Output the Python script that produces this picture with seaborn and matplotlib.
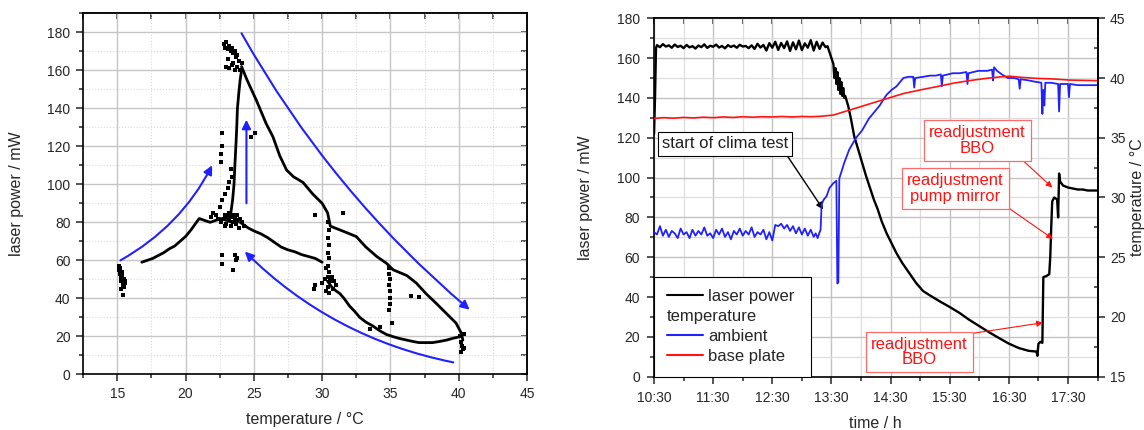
import matplotlib
matplotlib.use("Agg")
import matplotlib.pyplot as plt
from matplotlib.lines import Line2D
from matplotlib.ticker import MultipleLocator, FuncFormatter, NullFormatter
import seaborn as sns

# ---------------- left panel: laser power vs. temperature ----------------
# main traces (temperature in degC, power in mW)
heating_branch = [(16.8, 59), (17.2, 60), (17.6, 61), (18.0, 62.5), (18.4, 64), (18.8, 66),
                  (19.2, 67.5), (19.6, 70), (20.0, 72.5), (20.4, 76), (20.8, 80), (21.0, 82),
                  (21.4, 81), (21.8, 80), (22.2, 81), (22.6, 82), (23.0, 81), (23.4, 80), (23.8, 80)]
rise_branch = [(23.3, 84), (23.45, 92), (23.55, 100), (23.6, 108), (23.65, 115), (23.7, 122),
               (23.75, 130), (23.8, 140), (23.9, 148), (24.0, 155), (24.1, 160)]
upper_cooling = [(24.1, 162), (24.5, 155), (25.2, 144), (25.9, 132), (26.4, 125), (26.9, 115),
                 (27.4, 107.5), (27.9, 104), (28.6, 101), (29.3, 95), (30.0, 90), (30.4, 85),
                 (30.6, 78), (31.3, 76), (32.0, 74), (32.5, 72.5), (33.2, 67), (34.0, 62),
                 (34.7, 58.5), (35.2, 55), (36.2, 52), (36.9, 48), (37.6, 42.5), (38.4, 37),
                 (39.1, 32), (39.8, 27), (40.2, 21.5), (40.3, 18)]
lower_cooling = [(24.0, 80), (24.6, 77), (25.0, 75.5), (25.5, 74), (26.0, 72), (26.5, 69.5),
                 (27.0, 67), (27.5, 65.5), (28.0, 64.5), (28.5, 63), (29.0, 62), (29.5, 61), (30.0, 59)]
lower_cooling2 = [(30.4, 49), (30.7, 46), (31.0, 44), (31.3, 42.5), (31.6, 40), (32.0, 36),
                  (32.4, 33), (32.75, 30), (33.2, 27.5), (33.7, 25.5), (34.2, 23), (34.7, 21),
                  (35.2, 19.8), (35.7, 18.8), (36.2, 18), (36.7, 17.2), (37.1, 16.7), (37.6, 16.7),
                  (38.1, 16.7), (38.6, 17.3), (39.1, 18), (39.6, 19), (40.1, 19.8)]
# loose points and clusters
loose_points = [
    (15.1, 57), (15.15, 55), (15.2, 53), (15.25, 51), (15.3, 49), (15.35, 52), (15.4, 48),
    (15.45, 47), (15.5, 50), (15.55, 48), (15.3, 45), (15.4, 42), (15.6, 49), (15.35, 54),
    (15.5, 46), (15.2, 56),
    (22.6, 80), (22.8, 82), (22.9, 84), (23.0, 79), (23.1, 83), (23.2, 81), (23.3, 78),
    (23.4, 83), (23.5, 80), (23.6, 82), (23.7, 79), (23.8, 81), (23.9, 77), (24.0, 82),
    (24.1, 80), (24.3, 78), (23.2, 85), (23.5, 84), (23.8, 84), (22.9, 78), (22.4, 82),
    (22.2, 84), (22.0, 85), (21.9, 83),
    (22.8, 174), (22.9, 172), (23.0, 175), (23.1, 171), (23.2, 173), (23.3, 170), (23.4, 172),
    (23.5, 169), (23.6, 170), (23.7, 167), (23.8, 168), (23.9, 165), (23.0, 162), (23.2, 161),
    (23.4, 163), (23.6, 160), (23.8, 162), (24.0, 160), (24.1, 164), (23.1, 166), (23.5, 164),
    (22.5, 88), (22.7, 92), (22.9, 95), (23.1, 98), (23.2, 101), (23.4, 104), (22.6, 112),
    (22.6, 116), (22.7, 120), (22.7, 127), (23.3, 108),
    (22.7, 58), (22.7, 63), (23.5, 55), (23.8, 61), (23.6, 63), (23.7, 60), (24.8, 125),
    (25.1, 127), (29.5, 84), (31.5, 85), (36.5, 41), (37.1, 40.5), (33.5, 24), (34.2, 25),
    (29.5, 47), (29.4, 45), (30.3, 56),
    (30.45, 80), (30.5, 76), (30.45, 72), (30.5, 68), (30.4, 64), (30.5, 61), (30.45, 57),
    (30.5, 54), (30.4, 51),
    (30.0, 48), (30.2, 50), (30.4, 46), (30.6, 49), (30.8, 45), (30.3, 44), (30.7, 51),
    (31.0, 47), (30.5, 43), (30.9, 49),
    (34.9, 56), (34.9, 53), (35.0, 50), (34.9, 47), (35.0, 44), (34.95, 40), (35.0, 37),
    (34.9, 34), (35.1, 27),
    (40.2, 17), (40.25, 15), (40.3, 13.5), (40.2, 12), (40.35, 14), (40.1, 20), (40.4, 21),
]

# ---------------- right panel: time series ----------------
laser_time = [
    "10:30", "10:31", "10:32", "10:33", "10:36", "10:39", "10:42", "10:45", "10:48", "10:51",
    "10:54", "10:57", "11:00", "11:03", "11:06", "11:09", "11:12", "11:15", "11:18", "11:21",
    "11:24", "11:27", "11:30", "11:33", "11:36", "11:39", "11:42", "11:45", "11:48", "11:51",
    "11:54", "11:57", "12:00", "12:03", "12:06", "12:09", "12:12", "12:15", "12:18", "12:21",
    "12:24", "12:27", "12:30", "12:33", "12:36", "12:39", "12:42", "12:45", "12:48", "12:51",
    "12:54", "12:57", "13:00", "13:03", "13:06", "13:09", "13:12", "13:15", "13:18", "13:21",
    "13:24", "13:26", "13:28", "13:30", "13:32", "13:33", "13:34", "13:35", "13:36", "13:37",
    "13:38", "13:39", "13:40", "13:41", "13:42", "13:43", "13:44", "13:47", "13:50", "13:53",
    "13:56", "13:59", "14:02", "14:05", "14:09", "14:13", "14:17", "14:21", "14:26", "14:31",
    "14:36", "14:42", "14:49", "14:56", "15:03", "15:10", "15:20", "15:30", "15:40", "15:50",
    "16:00", "16:10", "16:20", "16:30", "16:40", "16:50", "16:58", "16:59", "17:00", "17:02",
    "17:04", "17:05", "17:08", "17:11", "17:12", "17:13", "17:14", "17:16", "17:19", "17:20",
    "17:21", "17:22", "17:25", "17:30", "17:35", "17:40", "17:45", "17:50", "17:55", "18:00",
]
laser_mw = [
    122, 140, 165, 166.5, 165.5, 167, 165.8, 166.4, 165.2, 166.8,
    165.6, 166.2, 165.0, 166.6, 165.4, 166.0, 164.8, 166.3, 165.5, 166.9,
    165.1, 166.2, 165.7, 166.8, 165.3, 166.1, 164.9, 166.5, 165.6, 166.3,
    165.2, 166.7, 165.8, 166.1, 165.0, 166.4, 164.6, 167.2, 165.3, 166.6,
    163.8, 167.5, 165.2, 168.2, 164.1, 167.6, 165.0, 168.4, 163.6, 167.9,
    164.4, 168.8, 164.0, 167.4, 165.2, 169.0, 163.8, 168.2, 164.6, 167.8,
    165.5, 166, 163, 160, 157, 150, 155, 147, 153, 144,
    150, 142, 148, 141, 145, 140, 141, 136, 129, 121,
    116, 111, 106, 101, 95, 89, 84, 78, 72, 67,
    62, 57, 52, 47, 43, 40.8, 37.8, 35, 32, 28.5,
    25.4, 22.3, 19.4, 16.6, 14.4, 13.0, 12.6, 10.5, 16.5, 17.5,
    17, 50, 50.5, 51.5, 60, 75, 88, 90, 89, 80,
    102, 98, 96, 95, 94.5, 94, 94, 93.5, 93.5, 93.5,
]

ambient_time = [
    "10:30", "10:33", "10:36", "10:39", "10:42", "10:45", "10:48", "10:51", "10:54", "10:57",
    "11:00", "11:03", "11:06", "11:09", "11:12", "11:15", "11:18", "11:21", "11:24", "11:27",
    "11:30", "11:33", "11:36", "11:39", "11:42", "11:45", "11:48", "11:51", "11:54", "11:57",
    "12:00", "12:03", "12:06", "12:09", "12:12", "12:15", "12:18", "12:21", "12:24", "12:27",
    "12:30", "12:33", "12:36", "12:39", "12:42", "12:45", "12:48", "12:51", "12:54", "12:57",
    "13:00", "13:03", "13:06", "13:09", "13:12", "13:14", "13:16", "13:18", "13:19", "13:20",
    "13:22", "13:25", "13:28", "13:32", "13:35", "13:36", "13:37", "13:38", "13:43", "13:48",
    "13:55", "14:01", "14:08", "14:14", "14:19", "14:22", "14:26", "14:31", "14:36", "14:43",
    "14:48", "14:53", "14:54", "14:55", "15:03", "15:10", "15:16", "15:21", "15:22", "15:23",
    "15:33", "15:40", "15:47", "15:48", "15:49", "15:59", "16:08", "16:13", "16:14", "16:15",
    "16:18", "16:23", "16:29", "16:35", "16:40", "16:41", "16:42", "16:50", "16:56", "17:03",
    "17:04", "17:05", "17:06", "17:07", "17:13", "17:20", "17:21", "17:22", "17:30", "17:31",
    "17:32", "17:40", "17:50", "18:00",
]
ambient_c = [
    27.1, 26.9, 27.6, 26.8, 27.3, 26.7, 27.2, 27.0, 26.6, 27.4,
    26.9, 27.1, 26.6, 27.3, 26.8, 27.2, 26.9, 27.5, 26.8, 27.0,
    26.6, 27.3, 26.9, 27.4, 26.7, 27.1, 26.5, 27.2, 26.9, 27.4,
    26.8, 27.2, 26.9, 27.5, 26.7, 27.1, 26.9, 27.3, 26.5, 27.1,
    26.4, 27.7, 27.6, 27.8, 27.4, 27.7, 27.2, 27.6, 27.0, 27.5,
    26.9, 27.4, 26.8, 27.3, 26.7, 27.0, 26.6, 27.1, 27.3, 29.4,
    29.8, 30.1, 30.8, 31.2, 31.4, 22.8, 22.9, 31.6, 32.9, 34.0,
    35.0, 35.6, 36.6, 37.2, 37.7, 38.1, 38.6, 39.0, 39.3, 40.0,
    40.1, 40.1, 39.2, 40.0, 40.1, 40.2, 40.2, 40.3, 39.3, 40.2,
    40.4, 40.4, 40.5, 39.5, 40.4, 40.6, 40.6, 40.7, 39.8, 40.9,
    40.6, 40.3, 40.0, 40.0, 39.9, 39.1, 39.9, 39.8, 39.7, 39.6,
    37.0, 39.0, 37.7, 39.6, 39.6, 39.5, 37.2, 39.5, 39.5, 38.4,
    39.5, 39.4, 39.4, 39.4,
]

base_time = ["10:30", "10:40", "10:50", "11:00", "11:10", "11:20", "11:30", "11:40", "11:50",
             "12:00", "12:10", "12:20", "12:30", "12:40", "12:50", "13:00", "13:10", "13:20",
             "13:32", "13:51", "14:09", "14:26", "14:43", "15:00", "15:17", "15:34", "15:50",
             "16:07", "16:24", "16:31", "16:41", "16:58", "17:15", "17:31", "18:00"]
base_c = [36.62, 36.68, 36.64, 36.70, 36.66, 36.72, 36.68, 36.74, 36.70,
          36.76, 36.72, 36.76, 36.74, 36.78, 36.74, 36.78, 36.76, 36.80,
          36.90, 37.38, 37.84, 38.27, 38.70, 39.00, 39.28, 39.57, 39.78,
          39.97, 40.12, 40.15, 40.07, 39.97, 39.92, 39.83, 39.78]

BLUE = "#2121ff"
RED = "#ff1414"


def to_hours(stamps):
    return [int(s[:2]) + int(s[3:]) / 60 for s in stamps]


def hhmm(v, pos=None):
    h = int(v)
    m = int(round((v - h) * 60))
    return f"{h}:{m:02d}"


sns.set_style("ticks")
plt.rcParams["font.family"] = ["Liberation Sans", "DejaVu Sans"]
plt.rcParams["axes.linewidth"] = 1.2

fig = plt.figure(figsize=(11.44, 4.30), dpi=100)
ax1 = fig.add_axes([0.0726, 0.1295, 0.3881, 0.8395])
ax2 = fig.add_axes([0.5717, 0.124, 0.3877, 0.8335])
ax3 = ax2.twinx()

# ---------- left ----------
for branch in [heating_branch, rise_branch, upper_cooling, lower_cooling, lower_cooling2]:
    t, p = zip(*branch)
    sns.lineplot(x=list(t), y=list(p), ax=ax1, color="black", lw=2.0,
                 sort=False, estimator=None)
t, p = zip(*loose_points)
sns.scatterplot(x=list(t), y=list(p), ax=ax1, color="black", marker="s", s=7,
                linewidth=0)

arrow_kw = dict(arrowstyle="-|>", color=BLUE, lw=1.5, mutation_scale=13,
                shrinkA=0, shrinkB=0)
ax1.annotate("", xy=(21.95, 110), xytext=(15.24, 60),
             arrowprops=dict(connectionstyle="arc3,rad=0.15", **arrow_kw))
ax1.annotate("", xy=(24.46, 134), xytext=(24.46, 90), arrowprops=arrow_kw)
ax1.annotate("", xy=(40.8, 34), xytext=(24.1, 179.5),
             arrowprops=dict(connectionstyle="arc3,rad=0.09", **arrow_kw))
ax1.annotate("", xy=(24.34, 64.6), xytext=(39.6, 6.3),
             arrowprops=dict(connectionstyle="arc3,rad=-0.15", **arrow_kw))

ax1.set_xlim(12.5, 45)
ax1.set_ylim(0, 190)
ax1.xaxis.set_major_locator(MultipleLocator(5))
ax1.xaxis.set_minor_locator(MultipleLocator(2.5))
ax1.yaxis.set_major_locator(MultipleLocator(20))
ax1.yaxis.set_minor_locator(MultipleLocator(10))
ax1.grid(which="major", color="#c6c6c6", lw=1.0)
ax1.grid(which="minor", color="#dadada", lw=0.8, ls=":")
ax1.tick_params(which="major", direction="out", length=5, width=1.1, labelsize=10, pad=4)
ax1.tick_params(which="minor", direction="out", length=3, width=1.1)
ax1.set_xlabel("temperature / °C", fontsize=11.5, labelpad=8)
ax1.set_ylabel("laser power / mW", fontsize=11.5, labelpad=17)
for s in ax1.spines.values():
    s.set_color("black")

top1 = ax1.secondary_xaxis("top")
top1.xaxis.set_major_locator(MultipleLocator(2.5))
top1.xaxis.set_major_formatter(NullFormatter())
top1.tick_params(direction="in", length=4, width=1.1)
right1 = ax1.secondary_yaxis("right")
right1.yaxis.set_major_locator(MultipleLocator(10))
right1.yaxis.set_major_formatter(NullFormatter())
right1.tick_params(direction="in", length=4, width=1.1)

# ---------- right ----------
sns.lineplot(x=to_hours(laser_time), y=laser_mw, ax=ax2, color="black", lw=1.7,
             sort=False, estimator=None)
sns.lineplot(x=to_hours(ambient_time), y=ambient_c, ax=ax3, color=BLUE, lw=1.3,
             sort=False, estimator=None)
sns.lineplot(x=to_hours(base_time), y=base_c, ax=ax3, color=RED, lw=1.2,
             sort=False, estimator=None)

ax2.set_xlim(10.5, 18.0)
ax2.set_ylim(0, 180)
ax3.set_ylim(15, 45)
ax2.xaxis.set_major_locator(MultipleLocator(1.0, offset=0.5))
ax2.xaxis.set_minor_locator(MultipleLocator(0.5))
ax2.xaxis.set_major_formatter(FuncFormatter(hhmm))
ax2.yaxis.set_major_locator(MultipleLocator(20))
ax2.yaxis.set_minor_locator(MultipleLocator(10))
ax3.yaxis.set_major_locator(MultipleLocator(5))
ax3.yaxis.set_minor_locator(MultipleLocator(2.5))
ax2.grid(which="major", color="#c2c2c2", lw=1.0)
ax2.grid(which="minor", color="#dedede", lw=0.9)
ax2.tick_params(which="major", direction="out", length=5, width=1.1, labelsize=10, pad=5)
ax2.tick_params(which="minor", direction="out", length=3, width=1.1)
ax3.tick_params(which="major", direction="out", length=5, width=1.1, labelsize=10, pad=4)
ax3.tick_params(which="minor", direction="in", length=3, width=1.1)
ax2.set_xlabel("time / h", fontsize=11.5, labelpad=8)
ax2.set_ylabel("laser power / mW", fontsize=11.5, labelpad=17)
ax3.set_ylabel("temperature / °C", fontsize=11.5, labelpad=3)
for s in ax2.spines.values():
    s.set_color("black")
ax3.spines["right"].set_color("black")
for side in ["left", "top", "bottom"]:
    ax3.spines[side].set_visible(False)

top2 = ax2.secondary_xaxis("top")
top2.xaxis.set_major_locator(MultipleLocator(0.5))
top2.xaxis.set_major_formatter(NullFormatter())
top2.tick_params(direction="in", length=4, width=1.1)

handles = [Line2D([], [], color="black", lw=1.5), Line2D([], [], color="none"),
           Line2D([], [], color=BLUE, lw=1.5), Line2D([], [], color=RED, lw=1.5)]
leg = ax2.legend(handles, ["laser power", "temperature", "ambient", "base plate"],
                 loc="lower left", bbox_to_anchor=(0, 0), borderaxespad=0,
                 fontsize=12, frameon=True, fancybox=False, edgecolor="black",
                 framealpha=1, handlelength=2.2, handletextpad=0.3,
                 labelspacing=0.3, borderpad=0.75)
leg.get_frame().set_linewidth(0.8)
leg.get_texts()[1].set_x(-(2.2 + 0.3) * 12 * 100 / 72)

ax2.annotate("start of clima test", xy=(13.36, 84), xytext=(11.70, 116.9),
             ha="center", va="center", fontsize=12, color="#202020",
             bbox=dict(boxstyle="square,pad=0.25", fc="white", ec="black", lw=0.8),
             arrowprops=dict(arrowstyle="-|>", color="black", lw=1.0, mutation_scale=10,
                             shrinkA=0, shrinkB=0, relpos=(0.97, 0)))
red_box = dict(boxstyle="square,pad=0.3", fc="white", ec="#ff6a6a", lw=0.9)
red_arrow = dict(arrowstyle="-|>", color=RED, lw=0.8, mutation_scale=9,
                 shrinkA=0, shrinkB=0)
ax2.annotate("readjustment\nBBO", xy=(17.235, 95), xytext=(15.97, 118.5),
             ha="center", va="center", fontsize=12, color=RED, linespacing=1.05,
             bbox=red_box, arrowprops=dict(relpos=(0.92, 0), **red_arrow))
ax2.annotate("readjustment\npump mirror", xy=(17.245, 69.2), xytext=(15.60, 94.4),
             ha="center", va="center", fontsize=12, color=RED, linespacing=1.05,
             bbox=red_box, arrowprops=dict(relpos=(0.99, 0), **red_arrow))
ax2.annotate("readjustment\nBBO", xy=(17.076, 27.1), xytext=(14.99, 12.4),
             ha="center", va="center", fontsize=12, color=RED, linespacing=1.05,
             bbox=red_box, arrowprops=dict(relpos=(0.82, 1), **red_arrow))

fig.savefig("out.png", dpi=100)
